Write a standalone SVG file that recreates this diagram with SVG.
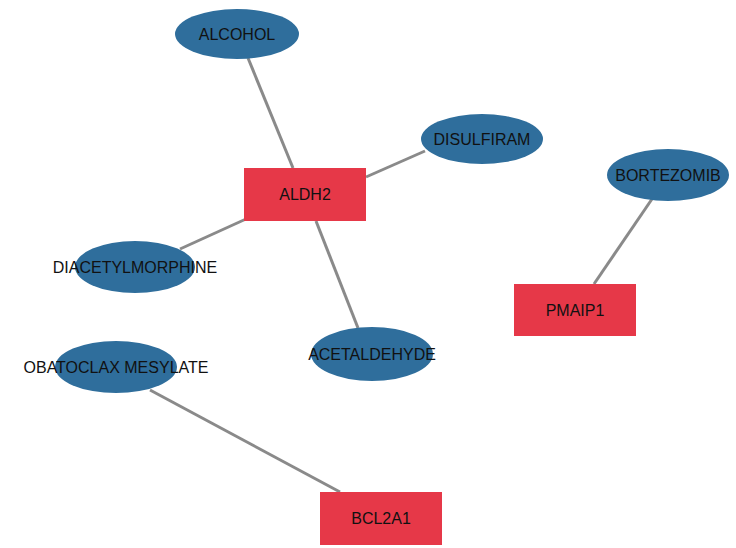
<svg xmlns="http://www.w3.org/2000/svg" width="736" height="548" viewBox="0 0 736 548">
<style>
.e{fill:#2f6e9c}
.r{fill:#e63848}
.l{stroke:#8a8a8a;stroke-width:3}
text{font-family:"Liberation Sans",Arial,sans-serif;font-size:16px;fill:#111;text-anchor:middle;dominant-baseline:central}
</style>
<rect width="736" height="548" fill="#fff"/>
<g id="edges">
<line class="l" x1="248" y1="58" x2="293" y2="168"/>
<line class="l" x1="425" y1="151" x2="366" y2="177"/>
<line class="l" x1="180" y1="249" x2="246" y2="219"/>
<line class="l" x1="358" y1="328" x2="316" y2="221"/>
<line class="l" x1="150" y1="390" x2="340" y2="492"/>
<line class="l" x1="652" y1="199" x2="594" y2="284"/>
</g>
<g id="ALCOHOL"><ellipse class="e" cx="237" cy="34" rx="62" ry="25"/><text x="237" y="34">ALCOHOL</text></g>
<g id="DISULFIRAM"><ellipse class="e" cx="482" cy="139" rx="61" ry="25"/><text x="482" y="139">DISULFIRAM</text></g>
<g id="ALDH2"><rect class="r" x="244" y="168" width="122" height="53"/><text x="305" y="194">ALDH2</text></g>
<g id="DIACETYLMORPHINE"><ellipse class="e" cx="135" cy="267" rx="60" ry="26"/><text x="135" y="267">DIACETYLMORPHINE</text></g>
<g id="ACETALDEHYDE"><ellipse class="e" cx="372" cy="354" rx="61" ry="27"/><text x="372" y="354">ACETALDEHYDE</text></g>
<g id="OBATOCLAX"><ellipse class="e" cx="116" cy="367" rx="61" ry="26"/><text x="116" y="367">OBATOCLAX MESYLATE</text></g>
<g id="BCL2A1"><rect class="r" x="320" y="492" width="122" height="53"/><text x="381" y="518">BCL2A1</text></g>
<g id="BORTEZOMIB"><ellipse class="e" cx="668" cy="175" rx="61" ry="26"/><text x="668" y="175">BORTEZOMIB</text></g>
<g id="PMAIP1"><rect class="r" x="514" y="284" width="122" height="52"/><text x="575" y="310">PMAIP1</text></g>
</svg>
